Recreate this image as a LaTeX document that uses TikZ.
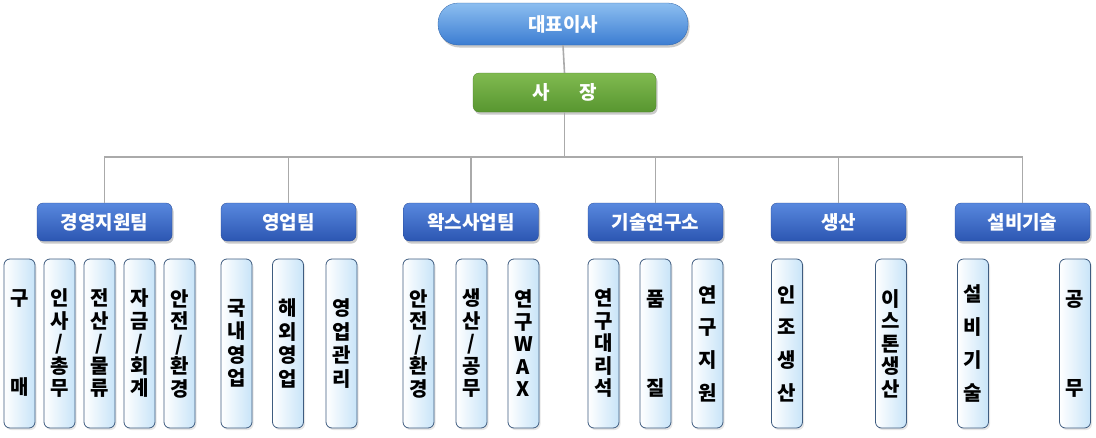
\documentclass[tikz,border=0pt]{standalone}
\usepackage{fontspec}
\newfontfamily\kr{Noto Sans CJK KR}
\newfontfamily\krb{Noto Sans CJK KR Black}
\usetikzlibrary{shadows}
\definecolor{lineg}{RGB}{170,170,170}
\definecolor{ceoTop}{RGB}{140,190,240}
\definecolor{ceoBot}{RGB}{60,125,210}
\definecolor{grTop}{RGB}{128,186,80}
\definecolor{grBot}{RGB}{88,150,48}
\definecolor{dpTop}{RGB}{88,136,222}
\definecolor{dpBot}{RGB}{44,86,178}
\definecolor{mbBorder}{RGB}{62,92,128}
\definecolor{mbRight}{RGB}{200,228,248}
\begin{document}
\begin{tikzpicture}[x=1pt,y=-1pt,
  conn/.style={draw=lineg,line width=1.6pt},
  shad/.style={drop shadow={shadow xshift=1.5pt,shadow yshift=-2.5pt,opacity=0.35,fill=black!60}},
  ceo/.style={shad,draw=ceoBot!80!black,line width=0.3pt,top color=ceoTop,bottom color=ceoBot,
    rounded corners=20pt,minimum width=250pt,minimum height=42pt,inner sep=0pt,
    text=white,font=\krb\fontsize{19}{21}\selectfont},
  pres/.style={shad,draw=grBot!85!black,line width=0.3pt,top color=grTop,bottom color=grBot,
    rounded corners=6pt,minimum width=183pt,minimum height=39pt,inner sep=0pt,
    text=white,font=\krb\fontsize{19}{21}\selectfont},
  dept/.style={shad,draw=dpBot!85!black,line width=0.3pt,top color=dpTop,bottom color=dpBot,
    rounded corners=6pt,minimum width=135pt,minimum height=38pt,inner sep=0pt,
    text=white,font=\krb\fontsize{19}{21}\selectfont},
  member/.style={drop shadow={shadow xshift=1.5pt,shadow yshift=-2pt,opacity=0.2,fill=black!50},
    draw=mbBorder,line width=0.8pt,left color=white,right color=mbRight,
    rounded corners=6pt,minimum width=31pt,minimum height=169pt,inner sep=0pt,align=center,
    text=black},
  mfive/.style={member,font=\krb\fontsize{20}{22.5}\selectfont},
  mfour/.style={member,font=\krb\fontsize{20}{23.5}\selectfont},
  mwide/.style={member,font=\krb\fontsize{20}{32.7}\selectfont},
  mtwo/.style={member,font=\krb\fontsize{20}{89}\selectfont}
]
\useasboundingbox (0,0) rectangle (1096,437);

% top
\node[ceo] (ceo) at (563,24) {대표이사};
\node[pres] (pres) at (564.5,92.5) {사\hspace{30pt}장};
\coordinate (bus) at (564.5,157);

% departments
\node[dept] (d1) at (104.5,222) {경영지원팀};
\node[dept] (d2) at (288.5,222) {영업팀};
\node[dept] (d3) at (471,222) {왁스사업팀};
\node[dept] (d4) at (655.5,222) {기술연구소};
\node[dept] (d5) at (838.5,222) {생산};
\node[dept] (d6) at (1022.5,222) {설비기술};

% connectors
\draw[conn] (ceo.south) -- (pres.north);
\draw[conn] (pres.south) -- (bus);
\foreach \d in {d1,d2,d3,d4,d5,d6}{\draw[conn] (\d.north) |- (bus);}

% members
\def\my{343.5}
\node[mtwo]  (m11) at (19.5,\my)  {구\\매};
\node[mfive] (m12) at (59.5,\my)  {인\\사\\/\\총\\무};
\node[mfive] (m13) at (99.5,\my)  {전\\산\\/\\물\\류};
\node[mfive] (m14) at (139.5,\my) {자\\금\\/\\회\\계};
\node[mfive] (m15) at (179.5,\my) {안\\전\\/\\환\\경};

\node[mfour] (m21) at (236.5,\my) {국\\내\\영\\업};
\node[mfour] (m22) at (288,\my)   {해\\외\\영\\업};
\node[mfour] (m23) at (341.5,\my) {영\\업\\관\\리};

\node[mfive] (m31) at (418.5,\my) {안\\전\\/\\환\\경};
\node[mfive] (m32) at (471.5,\my) {생\\산\\/\\공\\무};
\node[mfive] (m33) at (523.5,\my) {연\\구\\W\\A\\X};

\node[mfive] (m41) at (603.5,\my) {연\\구\\대\\리\\석};
\node[mtwo]  (m42) at (655.5,\my) {품\\질};
\node[mwide] (m43) at (707.5,\my) {연\\구\\지\\원};

\node[mwide] (m51) at (787,\my)   {인\\조\\생\\산};
\node[mfive] (m52) at (891,\my)   {이\\스\\톤\\생\\산};

\node[mwide] (m61) at (973,\my)   {설\\비\\기\\술};
\node[mtwo]  (m62) at (1075,\my)  {공\\무};
\end{tikzpicture}
\end{document}
